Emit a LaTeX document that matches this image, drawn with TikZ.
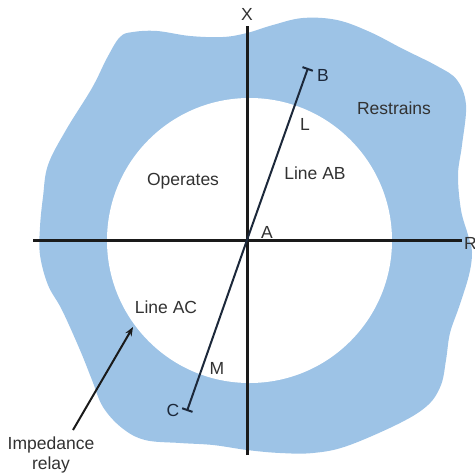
\documentclass[tikz,border=0pt]{standalone}
\usepackage{fontspec}
\setmainfont{Liberation Sans}
\usetikzlibrary{arrows.meta}
\definecolor{blobblue}{RGB}{157,195,230}
\definecolor{axiscol}{RGB}{26,26,26}
\definecolor{linecol}{RGB}{28,40,58}
\definecolor{txtcol}{RGB}{50,50,50}
\begin{document}
\begin{tikzpicture}[x=1pt,y=-1pt,
  lbl/.style={font=\fontsize{17.5}{20}\selectfont, text=txtcol, inner sep=0pt},
  axisline/.style={draw=axiscol, line width=3pt},
  relayline/.style={draw=linecol, line width=2pt},
  pointer/.style={draw=axiscol, line width=2pt, -{Stealth[length=9pt,width=7pt]}}]
\useasboundingbox (0,0) rectangle (474,476);
% restraining region (wavy blob)
\fill[blobblue] plot[smooth cycle, tension=0.6] coordinates {
 (120,37) (133,32) (157,31) (190,36) (223,37) (247,33) (273,25) (303,18)
 (337,20) (370,32) (403,49) (437,66) (457,80) (466,105) (462,145) (458,175)
 (461,210) (468,235) (472,252) (469,275) (459,307) (450,333) (446,360)
 (441,385) (428,405) (400,423) (347,446) (313,453) (280,453) (247,450)
 (213,445) (180,443) (145,440) (122,428) (103,407) (92,380) (80,350)
 (62,310) (48,285) (40,255) (40,227) (43,197) (48,165) (66,130) (92,88)
 (107,58)};
% operating circle
\fill[white] (249.5,240.5) circle[radius=142.5];
% axes
\coordinate (O) at (247,240);
\coordinate (xtop) at (247,26);
\coordinate (xbot) at (247,455);
\coordinate (rleft) at (33,240);
\coordinate (rright) at (462,240);
\draw[axisline] (xbot) -- (xtop);
\draw[axisline] (rleft) -- (rright);
\node[lbl] (X) at (247,14) {X};
\node[lbl, anchor=west] (R) at (464,243) {R};
% line B-A-C
\coordinate (B) at (308,68);
\coordinate (C) at (187,411);
\draw[relayline, {Bar[width=11pt]}-{Bar[width=11pt]}] (C) -- (O) -- (B);
\node[lbl, text=linecol] (Blab) at (323,75) {B};
\node[lbl, text=linecol] (Clab) at (173,410) {C};
\node[lbl] (Llab) at (305,124) {L};
\node[lbl] (Mlab) at (217,368) {M};
\node[lbl] (Alab) at (267,232) {A};
% region labels
\node[lbl] (lineab) at (315,173) {Line AB};
\node[lbl] (operates) at (183,181) {Operates};
\node[lbl] (restrains) at (394,108) {Restrains};
\node[lbl] (lineac) at (166,307) {Line AC};
% impedance relay pointer
\node[lbl, align=center] (relay) at (51,455) {Impedance\\relay};
\coordinate (tail) at (73,430);
\coordinate (tip) at (133,327);
\draw[pointer] (tail) -- (tip);
\end{tikzpicture}
\end{document}
